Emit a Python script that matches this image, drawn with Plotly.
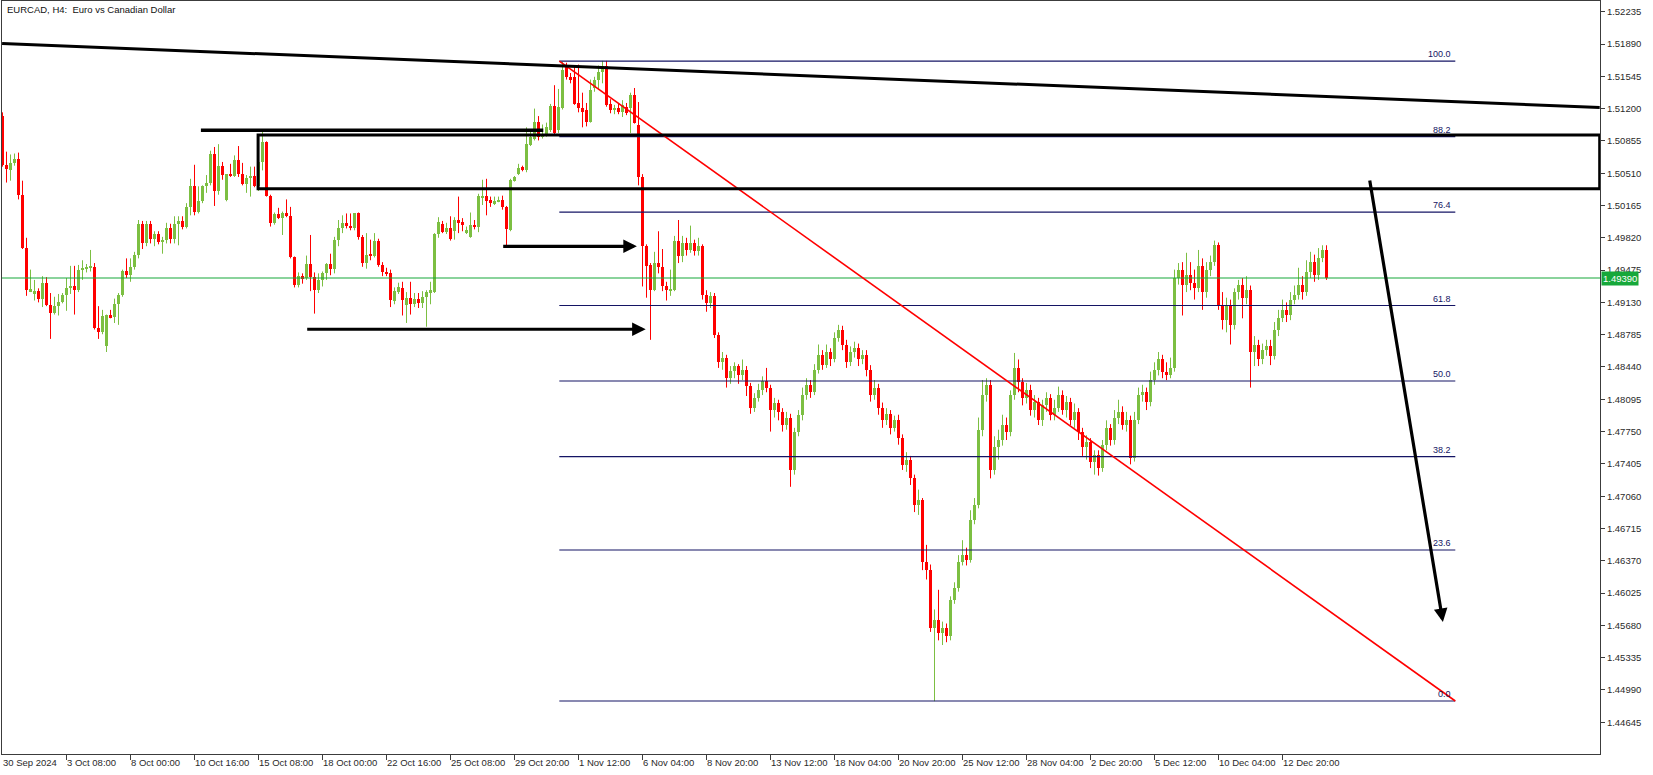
import plotly.graph_objects as go

title_text = "EURCAD, H4:\u00a0 Euro vs Canadian Dollar"

opens = [
1.5112,1.5060,1.5054,1.5062,1.5066,1.5028,1.4971,1.4925,1.4923,1.4925,
1.4917,1.4934,1.4910,1.4902,1.4909,1.4913,1.4921,1.4928,1.4931,1.4926,
1.4948,1.4949,1.4950,1.4951,1.4886,1.4881,1.4866,1.4899,1.4897,1.4911,
1.4921,1.4947,1.4942,1.4951,1.4964,1.4997,1.4976,1.4997,1.4981,1.4986,
1.4977,1.4980,1.4992,1.4981,1.4997,1.5000,1.4994,1.5015,1.5037,1.5010,
1.5021,1.5037,1.5041,1.5072,1.5032,1.5059,1.5022,1.5050,1.5048,1.5065,
1.5050,1.5039,1.5046,1.5048,1.5037,1.5063,1.5084,1.5027,1.4998,1.5007,
1.5003,1.5009,1.5005,1.4961,1.4932,1.4941,1.4939,1.4954,1.4940,1.4926,
1.4937,1.4944,1.4954,1.4949,1.4980,1.4992,1.4998,1.4995,1.4992,1.5008,
1.4983,1.4955,1.4964,1.4963,1.4979,1.4953,1.4945,1.4944,1.4914,1.4924,
1.4928,1.4910,1.4918,1.4911,1.4917,1.4912,1.4919,1.4923,1.4924,1.4986,
1.4997,1.4988,1.4992,1.4989,1.5001,1.4999,1.4987,1.4983,1.4996,1.4993,
1.5025,1.5027,1.5022,1.5018,1.5021,1.5022,1.5015,1.4990,1.5043,1.5050,
1.5058,1.5054,1.5081,1.5088,1.5106,1.5090,1.5092,1.5097,1.5123,1.5097,
1.5121,1.5164,1.5154,1.5154,1.5126,1.5121,1.5118,1.5106,1.5142,1.5151,
1.5159,1.5166,1.5125,1.5118,1.5121,1.5116,1.5122,1.5121,1.5135,1.5103,
1.5047,1.4973,1.4953,1.4926,1.4955,1.4951,1.4931,1.4926,1.4926,1.4979,
1.4963,1.4976,1.4969,1.4976,1.4968,1.4973,1.4921,1.4912,1.4920,1.4878,
1.4849,1.4854,1.4832,1.4840,1.4845,1.4835,1.4841,1.4824,1.4800,1.4811,
1.4819,1.4829,1.4822,1.4798,1.4805,1.4796,1.4782,1.4790,1.4734,1.4775,
1.4793,1.4814,1.4825,1.4817,1.4841,1.4857,1.4846,1.4860,1.4852,1.4875,
1.4884,1.4868,1.4849,1.4860,1.4864,1.4852,1.4857,1.4841,1.4814,1.4822,
1.4800,1.4787,1.4794,1.4779,1.4787,1.4768,1.4739,1.4745,1.4725,1.4697,
1.4702,1.4636,1.4627,1.4565,1.4574,1.4560,1.4565,1.4557,1.4595,1.4608,
1.4636,1.4643,1.4638,1.4681,1.4697,1.4777,1.4814,1.4825,1.4734,1.4758,
1.4766,1.4782,1.4775,1.4814,1.4843,1.4828,1.4811,1.4819,1.4798,1.4807,
1.4787,1.4803,1.4811,1.4793,1.4800,1.4814,1.4798,1.4807,1.4787,1.4796,
1.4775,1.4758,1.4764,1.4743,1.4750,1.4736,1.4761,1.4779,1.4766,1.4790,
1.4796,1.4782,1.4787,1.4747,1.4787,1.4814,1.4817,1.4807,1.4830,1.4841,
1.4852,1.4839,1.4835,1.4843,1.4939,1.4948,1.4932,1.4942,1.4934,1.4928,
1.4952,1.4924,1.4948,1.4956,1.4974,1.4910,1.4894,1.4910,1.4889,1.4924,
1.4932,1.4918,1.4926,1.4860,1.4868,1.4852,1.4862,1.4866,1.4856,1.4884,
1.4896,1.4905,1.4899,1.4916,1.4921,1.4932,1.4924,1.4945,1.4956,1.4942,
1.4960,1.4969]

highs = [
1.5116,1.5074,1.5071,1.5072,1.5073,1.5043,1.4982,1.4948,1.4937,1.4928,
1.4941,1.4940,1.4923,1.4919,1.4922,1.4923,1.4939,1.4952,1.4952,1.4953,
1.4958,1.4954,1.4969,1.4955,1.4909,1.4905,1.4900,1.4905,1.4917,1.4923,
1.4948,1.4960,1.4960,1.4967,1.5001,1.5000,1.5000,1.5000,1.4989,1.4989,
1.4983,1.4998,1.4997,1.5005,1.5005,1.5005,1.5019,1.5045,1.5060,1.5037,
1.5038,1.5049,1.5075,1.5079,1.5082,1.5063,1.5050,1.5061,1.5070,1.5080,
1.5062,1.5049,1.5058,1.5058,1.5069,1.5095,1.5085,1.5028,1.5009,1.5014,
1.5010,1.5023,1.5015,1.4962,1.4945,1.4944,1.4963,1.4985,1.4945,1.4944,
1.4946,1.4955,1.4965,1.4983,1.5001,1.5006,1.5008,1.5008,1.5008,1.5009,
1.4985,1.4987,1.4980,1.4987,1.4981,1.4956,1.4950,1.4948,1.4929,1.4934,
1.4935,1.4924,1.4935,1.4923,1.4923,1.4925,1.4926,1.4935,1.4987,1.5004,
1.5000,1.4998,1.5005,1.5004,1.5026,1.5003,1.4994,1.5009,1.5001,1.5029,
1.5044,1.5045,1.5026,1.5026,1.5026,1.5027,1.5016,1.5045,1.5048,1.5061,
1.5059,1.5100,1.5097,1.5120,1.5112,1.5103,1.5105,1.5125,1.5145,1.5141,
1.5170,1.5169,1.5158,1.5166,1.5167,1.5137,1.5126,1.5151,1.5154,1.5166,
1.5171,1.5171,1.5130,1.5124,1.5126,1.5129,1.5126,1.5137,1.5142,1.5127,
1.5050,1.4975,1.4955,1.4967,1.4989,1.4970,1.4935,1.4948,1.4984,1.5001,
1.4984,1.4982,1.4995,1.4980,1.4982,1.4975,1.4926,1.4924,1.4923,1.4881,
1.4860,1.4857,1.4845,1.4849,1.4847,1.4852,1.4845,1.4827,1.4816,1.4826,
1.4834,1.4843,1.4825,1.4811,1.4809,1.4800,1.4796,1.4794,1.4779,1.4798,
1.4822,1.4832,1.4830,1.4847,1.4868,1.4862,1.4868,1.4864,1.4881,1.4889,
1.4888,1.4873,1.4866,1.4871,1.4869,1.4862,1.4862,1.4846,1.4830,1.4826,
1.4806,1.4800,1.4798,1.4792,1.4793,1.4772,1.4753,1.4749,1.4729,1.4713,
1.4704,1.4654,1.4633,1.4585,1.4606,1.4572,1.4570,1.4599,1.4614,1.4643,
1.4659,1.4651,1.4691,1.4704,1.4790,1.4830,1.4832,1.4830,1.4770,1.4777,
1.4793,1.4790,1.4819,1.4859,1.4852,1.4832,1.4827,1.4825,1.4814,1.4811,
1.4809,1.4817,1.4815,1.4809,1.4823,1.4819,1.4813,1.4811,1.4805,1.4800,
1.4779,1.4771,1.4768,1.4755,1.4755,1.4766,1.4787,1.4783,1.4798,1.4809,
1.4802,1.4796,1.4792,1.4796,1.4822,1.4825,1.4822,1.4839,1.4849,1.4860,
1.4857,1.4849,1.4854,1.4948,1.4955,1.4956,1.4966,1.4956,1.4948,1.4969,
1.4960,1.4956,1.4963,1.4979,1.4977,1.4924,1.4918,1.4916,1.4928,1.4937,
1.4939,1.4941,1.4931,1.4877,1.4873,1.4869,1.4873,1.4873,1.4892,1.4905,
1.4916,1.4913,1.4924,1.4931,1.4950,1.4941,1.4958,1.4967,1.4964,1.4971,
1.4974,1.4974]

lows = [
1.5058,1.5041,1.5043,1.5059,1.5023,1.4970,1.4920,1.4924,1.4915,1.4913,
1.4908,1.4909,1.4874,1.4900,1.4899,1.4912,1.4904,1.4922,1.4900,1.4924,
1.4937,1.4945,1.4946,1.4884,1.4874,1.4879,1.4860,1.4896,1.4891,1.4889,
1.4919,1.4939,1.4935,1.4948,1.4960,1.4970,1.4973,1.4976,1.4973,1.4975,
1.4965,1.4976,1.4976,1.4976,1.4974,1.4991,1.4992,1.5006,1.5006,1.5008,
1.5019,1.5030,1.5038,1.5016,1.5028,1.5044,1.5021,1.5047,1.5047,1.5047,
1.5038,1.5030,1.5026,1.5036,1.5032,1.5054,1.5026,1.4994,1.4996,1.5002,
1.4985,1.5004,1.4960,1.4929,1.4929,1.4933,1.4937,1.4925,1.4901,1.4923,
1.4930,1.4937,1.4942,1.4944,1.4973,1.4987,1.4992,1.4990,1.4990,1.4980,
1.4951,1.4949,1.4958,1.4961,1.4951,1.4941,1.4941,1.4908,1.4911,1.4922,
1.4899,1.4891,1.4900,1.4908,1.4907,1.4907,1.4887,1.4911,1.4923,1.4982,
1.4987,1.4986,1.4979,1.4980,1.4987,1.4989,1.4986,1.4982,1.4991,1.4988,
1.5017,1.5006,1.5015,1.5017,1.5020,1.5012,1.4973,1.4989,1.5042,1.5049,
1.5053,1.5052,1.5080,1.5086,1.5086,1.5088,1.5090,1.5095,1.5092,1.5094,
1.5119,1.5151,1.5147,1.5124,1.5116,1.5100,1.5101,1.5105,1.5138,1.5140,
1.5147,1.5122,1.5115,1.5114,1.5114,1.5111,1.5113,1.5094,1.5104,1.5038,
1.4930,1.4918,1.4873,1.4925,1.4944,1.4925,1.4915,1.4920,1.4925,1.4955,
1.4956,1.4963,1.4966,1.4963,1.4963,1.4916,1.4903,1.4907,1.4875,1.4843,
1.4841,1.4822,1.4826,1.4832,1.4826,1.4830,1.4813,1.4794,1.4796,1.4807,
1.4814,1.4817,1.4775,1.4790,1.4787,1.4775,1.4777,1.4716,1.4729,1.4770,
1.4787,1.4809,1.4811,1.4814,1.4837,1.4841,1.4843,1.4845,1.4849,1.4871,
1.4862,1.4843,1.4845,1.4854,1.4845,1.4847,1.4834,1.4807,1.4809,1.4793,
1.4779,1.4782,1.4772,1.4775,1.4761,1.4734,1.4732,1.4718,1.4689,1.4686,
1.4627,1.4617,1.4561,1.4487,1.4552,1.4547,1.4550,1.4552,1.4591,1.4604,
1.4632,1.4632,1.4635,1.4676,1.4693,1.4770,1.4807,1.4725,1.4729,1.4745,
1.4760,1.4766,1.4770,1.4809,1.4817,1.4803,1.4805,1.4792,1.4790,1.4782,
1.4781,1.4796,1.4787,1.4787,1.4796,1.4793,1.4790,1.4782,1.4779,1.4766,
1.4749,1.4745,1.4736,1.4729,1.4728,1.4732,1.4755,1.4760,1.4761,1.4783,
1.4777,1.4775,1.4740,1.4743,1.4783,1.4807,1.4798,1.4802,1.4825,1.4835,
1.4832,1.4830,1.4832,1.4839,1.4932,1.4899,1.4924,1.4926,1.4916,1.4924,
1.4905,1.4918,1.4941,1.4952,1.4905,1.4884,1.4881,1.4868,1.4884,1.4916,
1.4896,1.4911,1.4822,1.4845,1.4845,1.4847,1.4856,1.4846,1.4852,1.4877,
1.4892,1.4892,1.4894,1.4911,1.4916,1.4916,1.4920,1.4939,1.4935,1.4937,
1.4956,1.4937]

closes = [
1.5060,1.5056,1.5062,1.5066,1.5028,1.4971,1.4926,1.4927,1.4925,1.4917,
1.4934,1.4910,1.4902,1.4909,1.4913,1.4921,1.4928,1.4931,1.4926,1.4948,
1.4949,1.4950,1.4951,1.4886,1.4881,1.4898,1.4899,1.4897,1.4911,1.4921,
1.4947,1.4942,1.4951,1.4964,1.4997,1.4976,1.4997,1.4981,1.4986,1.4977,
1.4980,1.4992,1.4981,1.4997,1.5000,1.4994,1.5015,1.5037,1.5010,1.5021,
1.5037,1.5041,1.5072,1.5032,1.5059,1.5049,1.5050,1.5048,1.5065,1.5050,
1.5039,1.5046,1.5048,1.5037,1.5063,1.5084,1.5027,1.4998,1.5007,1.5003,
1.5009,1.5005,1.4961,1.4932,1.4941,1.4939,1.4954,1.4940,1.4926,1.4937,
1.4944,1.4954,1.4949,1.4980,1.4992,1.4998,1.4995,1.4992,1.5008,1.4983,
1.4955,1.4964,1.4963,1.4979,1.4953,1.4945,1.4944,1.4916,1.4925,1.4929,
1.4916,1.4918,1.4911,1.4917,1.4912,1.4919,1.4924,1.4926,1.4986,1.4999,
1.4988,1.4992,1.4981,1.5001,1.4998,1.4996,1.4990,1.4996,1.4993,1.5027,
1.5026,1.5021,1.5020,1.5021,1.5022,1.5015,1.4991,1.5044,1.5047,1.5057,
1.5054,1.5082,1.5090,1.5106,1.5090,1.5093,1.5100,1.5123,1.5094,1.5122,
1.5161,1.5154,1.5151,1.5125,1.5121,1.5116,1.5106,1.5140,1.5151,1.5159,
1.5166,1.5124,1.5118,1.5121,1.5116,1.5124,1.5115,1.5135,1.5105,1.5047,
1.4973,1.4952,1.4926,1.4955,1.4951,1.4930,1.4926,1.4927,1.4979,1.4963,
1.4976,1.4969,1.4976,1.4968,1.4973,1.4921,1.4912,1.4920,1.4878,1.4849,
1.4854,1.4832,1.4840,1.4845,1.4835,1.4841,1.4824,1.4800,1.4811,1.4819,
1.4829,1.4822,1.4798,1.4805,1.4796,1.4782,1.4790,1.4734,1.4775,1.4793,
1.4814,1.4825,1.4817,1.4841,1.4857,1.4846,1.4860,1.4852,1.4875,1.4884,
1.4868,1.4849,1.4860,1.4864,1.4852,1.4857,1.4841,1.4814,1.4822,1.4800,
1.4787,1.4794,1.4779,1.4787,1.4768,1.4739,1.4745,1.4725,1.4697,1.4702,
1.4636,1.4627,1.4565,1.4574,1.4560,1.4565,1.4557,1.4595,1.4608,1.4636,
1.4643,1.4638,1.4681,1.4697,1.4777,1.4814,1.4825,1.4734,1.4758,1.4766,
1.4782,1.4775,1.4814,1.4843,1.4828,1.4811,1.4819,1.4798,1.4807,1.4787,
1.4803,1.4811,1.4793,1.4800,1.4814,1.4798,1.4807,1.4787,1.4796,1.4775,
1.4758,1.4764,1.4743,1.4750,1.4736,1.4761,1.4779,1.4766,1.4790,1.4796,
1.4782,1.4787,1.4747,1.4787,1.4814,1.4817,1.4807,1.4830,1.4841,1.4852,
1.4839,1.4835,1.4843,1.4939,1.4948,1.4932,1.4942,1.4934,1.4928,1.4952,
1.4924,1.4948,1.4956,1.4974,1.4910,1.4894,1.4910,1.4889,1.4924,1.4932,
1.4918,1.4926,1.4860,1.4868,1.4852,1.4862,1.4866,1.4856,1.4884,1.4896,
1.4905,1.4899,1.4916,1.4921,1.4932,1.4924,1.4945,1.4956,1.4942,1.4960,
1.4969,1.4939]

date_labels = ["30 Sep 2024", "3 Oct 08:00", "8 Oct 00:00", "10 Oct 16:00", "15 Oct 08:00",
               "18 Oct 00:00", "22 Oct 16:00", "25 Oct 08:00", "29 Oct 20:00", "1 Nov 12:00",
               "6 Nov 04:00", "8 Nov 20:00", "13 Nov 12:00", "18 Nov 04:00", "20 Nov 20:00",
               "25 Nov 12:00", "28 Nov 04:00", "2 Dec 20:00", "5 Dec 12:00", "10 Dec 04:00",
               "12 Dec 20:00"]
bars_per_label = 16

price_ticks = [1.44645, 1.44990, 1.45335, 1.45680, 1.46025, 1.46370, 1.46715, 1.47060,
               1.47405, 1.47750, 1.48095, 1.48440, 1.48785, 1.49130, 1.49475, 1.49820,
               1.50165, 1.50510, 1.50855, 1.51200, 1.51545, 1.51890, 1.52235]

current_price = 1.49390

fib_ratios = [0.0, 23.6, 38.2, 50.0, 61.8, 76.4, 88.2, 100.0]
fib_high = 1.51707
fib_low = 1.44872
fib_bars = [139.2, 363.2]

trend_bars = [-0.1, 399.3]
trend_prices = [1.51895, 1.51212]

zone_bars = [63.9, 399.3]
zone_prices = [1.50343, 1.50918]

level_bars = [49.6, 135.2]
level_price = 1.50968

arrow1_bars = [124.8, 158.6]
arrow1_price = 1.49729
arrow2_bars = [75.8, 160.8]
arrow2_price = 1.48843

proj_bars = [341.75, 360.1]
proj_prices = [1.50448, 1.45716]

UP = "#7cbf42"
DN = "#ff0000"
FIB = "#141464"
FONT = "Liberation Sans, Arial, sans-serif"
TXT = "#2a2a2a"
GREEN = "#16a83a"

n = len(closes)
up_x, up_b, up_h, dn_x, dn_b, dn_h = [], [], [], [], [], []
wu_x, wu_y, wd_x, wd_y = [], [], [], []
min_h = 0.0001
for i in range(n):
    o, h, l, c = opens[i], highs[i], lows[i], closes[i]
    base = min(o, c)
    hh = max(abs(c - o), min_h)
    if c >= o:
        up_x.append(i); up_b.append(base); up_h.append(hh)
        wu_x += [i, i, None]; wu_y += [l, h, None]
    else:
        dn_x.append(i); dn_b.append(base); dn_h.append(hh)
        wd_x += [i, i, None]; wd_y += [l, h, None]

fig = go.Figure()
fig.add_trace(go.Scatter(x=wu_x, y=wu_y, mode="lines", line=dict(color=UP, width=1),
                         hoverinfo="skip", connectgaps=False))
fig.add_trace(go.Scatter(x=wd_x, y=wd_y, mode="lines", line=dict(color=DN, width=1),
                         hoverinfo="skip", connectgaps=False))
fig.add_trace(go.Bar(x=up_x, y=up_h, base=up_b, width=0.75, marker=dict(color=UP, line=dict(width=0)),
                     hoverinfo="skip"))
fig.add_trace(go.Bar(x=dn_x, y=dn_h, base=dn_b, width=0.75, marker=dict(color=DN, line=dict(width=0)),
                     hoverinfo="skip"))

shapes = []
annotations = []

# current price line
shapes.append(dict(type="line", xref="paper", x0=0, x1=1, yref="y", y0=current_price, y1=current_price,
                   line=dict(color=GREEN, width=1.1)))

# fibonacci levels
for r in fib_ratios:
    p = fib_low + (fib_high - fib_low) * r / 100.0
    shapes.append(dict(type="line", xref="x", yref="y", x0=fib_bars[0], x1=fib_bars[1], y0=p, y1=p,
                       line=dict(color=FIB, width=1.1)))
    annotations.append(dict(x=fib_bars[1], y=p, xref="x", yref="y", text="%.1f" % r, showarrow=False,
                            xanchor="right", yanchor="bottom", yshift=0, xshift=-2,
                            font=dict(family=FONT, size=9, color=FIB)))
shapes.append(dict(type="line", xref="x", yref="y", x0=fib_bars[0], x1=fib_bars[1], y0=fib_high, y1=fib_low,
                   line=dict(color="#ff0000", width=1.6)))

# trend line
shapes.append(dict(type="line", xref="x", yref="y", x0=trend_bars[0], x1=trend_bars[1],
                   y0=trend_prices[0], y1=trend_prices[1], line=dict(color="#000000", width=3)))
# zone rectangle
shapes.append(dict(type="rect", xref="x", yref="y", x0=zone_bars[0], x1=zone_bars[1],
                   y0=zone_prices[0], y1=zone_prices[1], line=dict(color="#000000", width=3)))
# level line
shapes.append(dict(type="line", xref="x", yref="y", x0=level_bars[0], x1=level_bars[1],
                   y0=level_price, y1=level_price, line=dict(color="#000000", width=3.5)))

# arrows
for (xs, ys) in [(arrow1_bars, [arrow1_price, arrow1_price]),
                 (arrow2_bars, [arrow2_price, arrow2_price]),
                 (proj_bars, proj_prices)]:
    annotations.append(dict(x=xs[1], y=ys[1], ax=xs[0], ay=ys[0], xref="x", yref="y", axref="x", ayref="y",
                            text="", showarrow=True, arrowhead=2, arrowsize=0.85, arrowwidth=3.2,
                            arrowcolor="#000000", standoff=0, startstandoff=0))

# title
annotations.append(dict(x=0, y=1, xref="paper", yref="paper", xanchor="left", yanchor="top",
                        text=title_text, showarrow=False, xshift=3, yshift=-1,
                        font=dict(family=FONT, size=9.5, color="#111111")))

# date labels
for k, lab in enumerate(date_labels):
    annotations.append(dict(x=k * bars_per_label - 0.125, y=0, xref="x", yref="paper", xanchor="left",
                            yanchor="top", text=lab, showarrow=False, xshift=-1, yshift=-1,
                            font=dict(family=FONT, size=9.5, color=TXT)))

# price tag
annotations.append(dict(x=1, y=current_price, xref="paper", yref="y", xanchor="left", yanchor="middle",
                        text="%.5f" % current_price, showarrow=False, xshift=1, bgcolor=GREEN,
                        borderpad=1, font=dict(family=FONT, size=9.5, color="#ffffff")))

fig.update_layout(
    width=1653, height=775,
    margin=dict(l=2, r=53, t=1, b=21),
    paper_bgcolor="#ffffff", plot_bgcolor="#ffffff",
    showlegend=False, barmode="overlay", bargap=0,
    shapes=shapes, annotations=annotations,
    xaxis=dict(range=[-0.125, 399.375], showgrid=False, zeroline=False, showline=True, mirror=True,
               linecolor="#3c3c3c", linewidth=1, ticks="outside", ticklen=5, tickcolor="#3c3c3c",
               tickvals=[k * bars_per_label - 0.125 for k in range(1, len(date_labels))],
               showticklabels=False, fixedrange=True),
    yaxis=dict(range=[1.44306, 1.523493], side="right", showgrid=False, zeroline=False, showline=True,
               mirror=True, linecolor="#3c3c3c", linewidth=1, ticks="outside", ticklen=4,
               tickcolor="#3c3c3c", tickvals=price_ticks, ticktext=["%.5f" % p for p in price_ticks],
               tickfont=dict(family=FONT, size=9.5, color=TXT), fixedrange=True),
)

fig.write_html("out.html", config={"displayModeBar": False},
               post_script="document.body.style.margin='0px';document.body.style.overflow='hidden';")
